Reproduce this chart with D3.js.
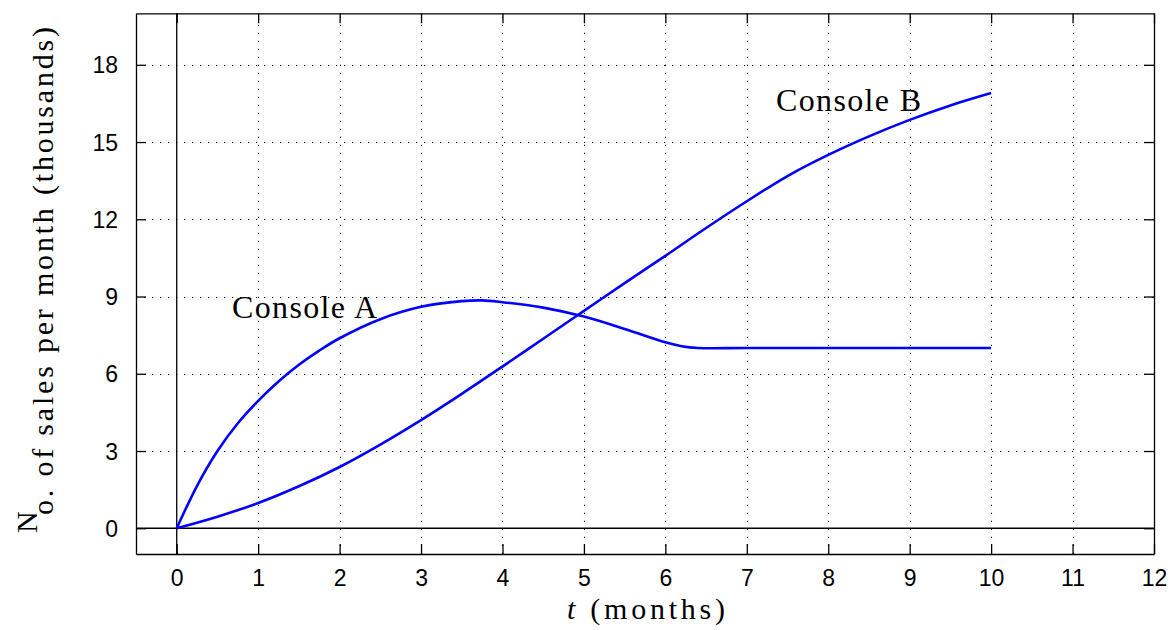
<!DOCTYPE html>
<html>
<head>
<meta charset="utf-8">
<script src="https://cdn.jsdelivr.net/npm/d3@7"></script>
<style>
  html, body { margin: 0; padding: 0; background: #fff; }
  svg { display: block; }
</style>
</head>
<body>
<svg id="chart" width="1170" height="630"></svg>
<script>
// ---- data ----
const xTicks = [0, 1, 2, 3, 4, 5, 6, 7, 8, 9, 10, 11, 12];
const yTicks = [0, 3, 6, 9, 12, 15, 18];
const consoleA_t = [0, 0.25, 0.5, 0.75, 1, 1.25, 1.5, 1.75, 2, 2.5, 3, 3.5, 3.75, 4, 4.5, 5, 5.5, 6, 6.2, 6.4, 7, 8, 9, 10];
const consoleA_v = [0, 1.65, 3.0, 4.08, 4.95, 5.7, 6.35, 6.9, 7.38, 8.12, 8.6, 8.82, 8.85, 8.78, 8.57, 8.22, 7.74, 7.22, 7.07, 7.0, 7.0, 7.0, 7.0, 7.0];
const consoleB_t = [0, 0.5, 1, 1.5, 2, 2.5, 3, 3.5, 4, 4.5, 5, 5.5, 6, 6.5, 7, 7.5, 8, 8.5, 9, 9.5, 10];
const consoleB_v = [0, 0.45, 0.98, 1.63, 2.38, 3.25, 4.2, 5.22, 6.28, 7.36, 8.44, 9.52, 10.58, 11.66, 12.7, 13.68, 14.5, 15.22, 15.86, 16.42, 16.9];
const seriesNames = ["Console A", "Console B"];
const xLabel = "(months)";
const yLabelHead = "N";
const yLabelRest = "o. of sales per month (thousands)";

// ---- layout ----
const L = 136, R = 1154, T = 13.3, B = 554;
const svg = d3.select("#chart");
const x = d3.scaleLinear().domain([-0.5, 12]).range([L, R]);
const y = d3.scaleLinear().domain([-1, 20]).range([B, T]);

// grid
const grid = svg.append("g").attr("stroke", "#000").attr("stroke-width", 1.1).attr("stroke-dasharray", "1.2 6.8");
grid.selectAll(".vg").data(xTicks.filter(d => d !== 0 && d !== 12)).join("line")
  .attr("x1", d => Math.round(x(d)) + 0.5).attr("x2", d => Math.round(x(d)) + 0.5)
  .attr("y1", B).attr("y2", T);
grid.selectAll(".hg").data(yTicks.filter(d => d !== 0)).join("line")
  .attr("y1", d => Math.round(y(d)) + 0.5).attr("y2", d => Math.round(y(d)) + 0.5)
  .attr("x1", L).attr("x2", R);

// zero lines
svg.append("line").attr("x1", x(0)).attr("x2", x(0)).attr("y1", T).attr("y2", B).attr("stroke", "#000").attr("stroke-width", 1.3);
svg.append("line").attr("x1", L).attr("x2", R).attr("y1", y(0)).attr("y2", y(0)).attr("stroke", "#000").attr("stroke-width", 1.3);

// axes (inward ticks on all sides)
const tickFont = "'Liberation Sans', Arial, sans-serif";
const axB = svg.append("g").attr("transform", `translate(0,${B})`)
  .call(d3.axisBottom(x).tickValues(xTicks).tickSizeInner(-10).tickSizeOuter(0).tickPadding(18));
const axT = svg.append("g").attr("transform", `translate(0,${T})`)
  .call(d3.axisTop(x).tickValues(xTicks).tickSizeInner(-10).tickSizeOuter(0).tickFormat(""));
const axLf = svg.append("g").attr("transform", `translate(${L},0)`)
  .call(d3.axisLeft(y).tickValues(yTicks).tickSizeInner(-10).tickSizeOuter(0).tickPadding(18));
const axRt = svg.append("g").attr("transform", `translate(${R},0)`)
  .call(d3.axisRight(y).tickValues(yTicks).tickSizeInner(-10).tickSizeOuter(0).tickFormat(""));
[axB, axT, axLf, axRt].forEach(a => {
  a.select(".domain").attr("stroke", "#000").attr("stroke-width", 1.3);
  a.selectAll(".tick line").attr("stroke", "#000").attr("stroke-width", 1.3);
  a.selectAll("text").attr("fill", "#000").style("font-family", tickFont).style("font-size", "23px");
});
axB.selectAll("text").attr("dy", "0.6em");
axLf.selectAll("text").attr("dy", "0.35em");

// curves
const line = d3.line().x(d => x(d[0])).y(d => y(d[1])).curve(d3.curveCatmullRom.alpha(0.5));
const dataA = consoleA_t.map((t, i) => [t, consoleA_v[i]]);
const dataB = consoleB_t.map((t, i) => [t, consoleB_v[i]]);
[dataA, dataB].forEach(d => {
  svg.append("path").datum(d).attr("d", line).attr("fill", "none")
    .attr("stroke", "#0000ff").attr("stroke-width", 2.6).attr("stroke-linejoin", "round");
});

// series labels
const serif = "'Liberation Serif', 'Times New Roman', serif";
svg.append("text").attr("x", 232).attr("y", 318).text(seriesNames[0])
  .style("font-family", serif).style("font-size", "32px").attr("fill", "#000")
  .attr("textLength", 145).attr("lengthAdjust", "spacing");
svg.append("text").attr("x", 776).attr("y", 111).text(seriesNames[1])
  .style("font-family", serif).style("font-size", "32px").attr("fill", "#000")
  .attr("textLength", 145).attr("lengthAdjust", "spacing");

// x label
const xl = svg.append("text").attr("x", 567).attr("y", 619)
  .style("font-family", serif).style("font-size", "30px").attr("fill", "#000")
  .attr("textLength", 158).attr("lengthAdjust", "spacing");
xl.append("tspan").style("font-style", "italic").text("t");
xl.append("tspan").text(" " + xLabel);

// y label
svg.append("text").attr("transform", "translate(37,533) rotate(-90)").text(yLabelHead)
  .style("font-family", serif).style("font-size", "30px").attr("fill", "#000");
svg.append("text").attr("transform", "translate(53,515) rotate(-90)").text(yLabelRest)
  .style("font-family", serif).style("font-size", "30px").attr("fill", "#000")
  .attr("textLength", 488).attr("lengthAdjust", "spacing");
</script>
</body>
</html>
